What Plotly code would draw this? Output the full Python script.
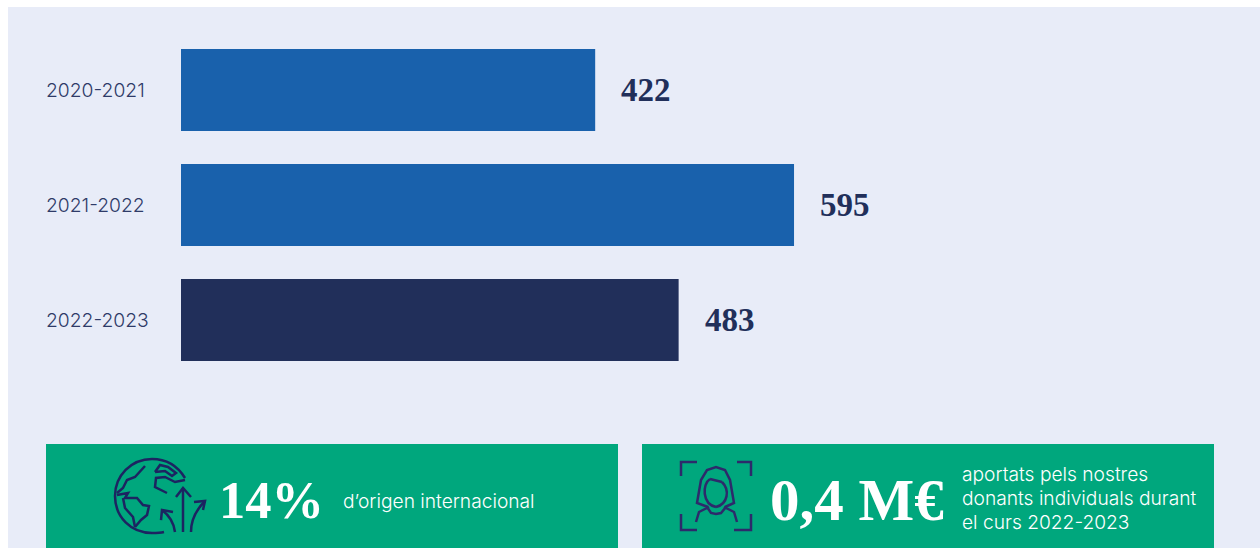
import plotly.graph_objects as go

W, H = 1260, 548

# --- data ---
categories = ["2020-2021", "2021-2022", "2022-2023"]
# Drawn bar lengths as measured; the first bar is drawn shorter than its printed label implies.
bar_lengths = [402, 595, 483]
printed_labels = ["422", "595", "483"]
bar_colors = ["#1961AC", "#1961AC", "#212F5A"]
kpi_big = ["14%", "0,4 M€"]
kpi_left_text = ["d’origen internacional"]
kpi_right_text = ["aportats pels nostres", "donants individuals durant", "el curs 2022-2023"]

PANEL = "#E8ECF8"
GREEN = "#00A77D"
INK = "#212F5A"
ICON = "#1C2461"
LIGHT = "Inter"
SERIF = "Liberation Serif"


def px(x):
    return x / W


def py(y):
    return 1 - y / H


def rect(x0, y0, x1, y1, color):
    return dict(type="rect", xref="paper", yref="paper", x0=px(x0), x1=px(x1),
                y0=py(y0), y1=py(y1), fillcolor=color, line_width=0, layer="below")


def poly(points, color=ICON, width=2.5):
    d = "M " + " L ".join(f"{px(a):.5f},{py(b):.5f}" for a, b in points)
    return dict(type="path", xref="paper", yref="paper", path=d,
                line=dict(color=color, width=width), layer="above")


def curve(p0, p1, p2, p3, color=ICON, width=2.5):
    f = lambda p: f"{px(p[0]):.5f},{py(p[1]):.5f}"
    return dict(type="path", xref="paper", yref="paper",
                path=f"M {f(p0)} C {f(p1)} {f(p2)} {f(p3)}",
                line=dict(color=color, width=width), layer="above")


fig = go.Figure(go.Bar(
    x=bar_lengths, y=categories, orientation="h",
    marker=dict(color=bar_colors, line_width=0), hoverinfo="skip",
))

shapes = [
    rect(8, 7, 1260, 548, PANEL),
    rect(46, 444, 618, 548, GREEN),
    rect(642, 444, 1214, 548, GREEN),
]

# globe icon: outline as four bezier arcs, leaving the upper right open for the arrows
shapes += [
    curve((185, 478), (177, 465), (166, 459), (152, 459)),
    curve((152, 459), (131, 459), (115, 476), (115, 496)),
    curve((115, 496), (115, 517), (131, 533), (152, 533)),
    curve((152, 533), (156, 533), (160, 533), (164, 532)),
    poly([(145, 466), (135, 477), (127, 480), (123, 488), (117, 493)]),
    poly([(117, 495), (128, 493), (125, 498), (137, 498), (143, 505), (149, 506),
          (147, 515), (141, 520), (135, 527)]),
    poly([(123, 498), (125, 508), (133, 517), (135, 527)]),
    poly([(155, 472), (160, 465), (168, 467), (176, 473), (172, 476), (165, 471), (155, 472)]),
    poly([(185, 480), (175, 482), (165, 477), (156, 478), (155, 487), (167, 493)]),
    poly([(183, 532), (183, 488)]),
    poly([(176, 497), (183, 488), (191, 497)]),
    curve((175, 532), (174, 524), (170, 516), (162, 510)),
    poly([(161, 520), (162, 510), (173, 512)]),
    curve((191, 532), (191, 520), (196, 510), (205, 501)),
    poly([(194, 502), (205, 501), (203, 510)]),
]

# portrait icon
FACE = "#2D2A6B"
shapes += [poly(p, FACE) for p in [
    [(697, 462), (681, 462), (681, 476)],
    [(737, 462), (751, 462), (751, 476)],
    [(681, 514), (681, 530), (697, 530)],
    [(734, 530), (751, 530), (751, 514)],
    [(708, 507), (697, 503), (701, 480), (707, 470), (716, 467), (725, 470),
     (730, 480), (734, 503), (725, 507)],
    [(696, 522), (699, 512), (709, 507)],
    [(737, 522), (734, 512), (724, 507)],
    [(707, 507), (711, 513), (716, 514), (721, 513), (726, 507)],
    [(710, 479), (722, 482)],
]]
shapes += [
    curve((710, 479), (702, 484), (702, 504), (716, 507), FACE),
    curve((722, 482), (730, 490), (728, 504), (716, 507), FACE),
]

annotations = []
for cat, length, label in zip(categories, bar_lengths, printed_labels):
    annotations.append(dict(xref="paper", yref="y", x=px(46), y=cat, text=cat, showarrow=False,
                            xanchor="left", yanchor="middle", xshift=-2,
                            font=dict(family=LIGHT, size=19.3, color="#2F3B68", weight=300)))
    annotations.append(dict(xref="x", yref="y", x=length, y=cat, text=f"<b>{label}</b>",
                            showarrow=False, xanchor="left", yanchor="middle", xshift=24,
                            font=dict(family=SERIF, size=33, color=INK)))


def text(x, y, s, size, family=LIGHT, color="white", weight=300):
    return dict(xref="paper", yref="paper", x=px(x), y=py(y), text=s, showarrow=False,
                xanchor="left", yanchor="middle", xshift=-2,
                font=dict(family=family, size=size, color=color, weight=weight))


annotations.append(text(219, 500, kpi_big[0], 52.5, SERIF, weight=700))
annotations.append(text(770, 500, kpi_big[1], 59, SERIF, weight=700))
annotations.append(text(343, 501, kpi_left_text[0], 19.2))
for line, yy in zip(kpi_right_text, [474, 498, 522]):
    annotations.append(text(962, yy, line, 19.2))

fig.update_layout(
    width=W, height=H, margin=dict(l=0, r=0, t=0, b=0), autosize=False,
    paper_bgcolor="white", plot_bgcolor="rgba(0,0,0,0)", showlegend=False,
    bargap=33 / 115, shapes=shapes, annotations=annotations,
    xaxis=dict(domain=[px(181), 1], range=[0, (W - 181) / 1.0303], visible=False, fixedrange=True),
    yaxis=dict(domain=[py(377.5), py(32.5)], categoryorder="array", categoryarray=categories,
               autorange="reversed", showticklabels=False, showgrid=False, zeroline=False,
               showline=False, ticks="", fixedrange=True),
)

# The page's default body margin would push the figure 8px right and down.
fig.write_html("out.html", config={"displayModeBar": False},
               post_script="document.body.style.margin='0';document.documentElement.style.overflow='hidden';")
